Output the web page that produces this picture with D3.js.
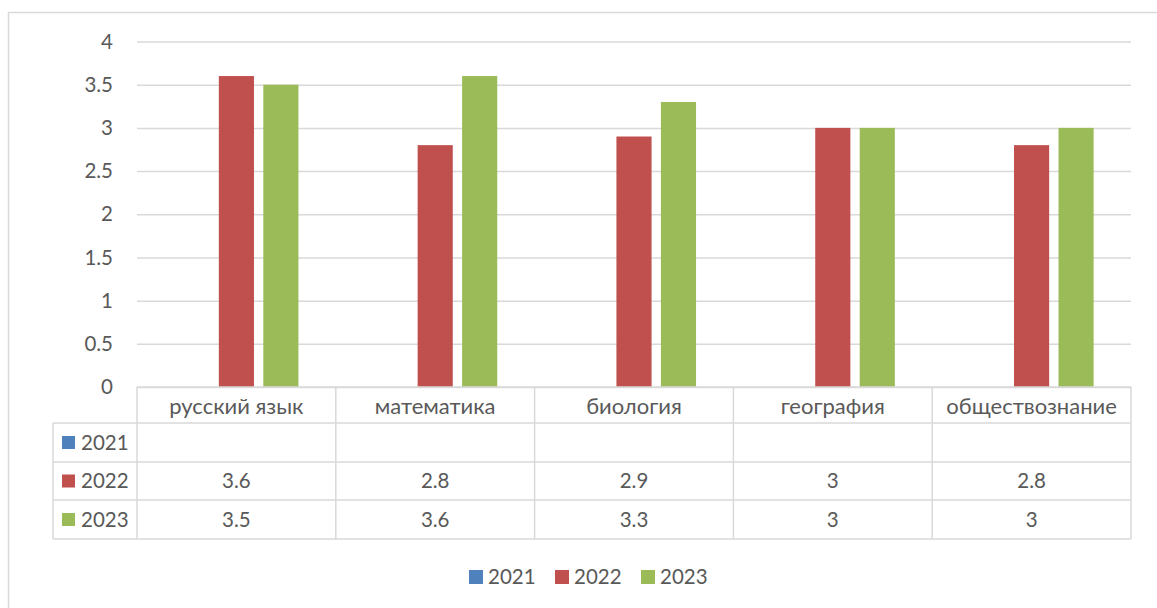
<!DOCTYPE html>
<html>
<head>
<meta charset="utf-8">
<script src="https://cdn.jsdelivr.net/npm/d3@7"></script>
<style>
  body { margin: 0; background: #fff; }
  text { font-family: Lato, "Open Sans", sans-serif; fill: #595959; }
</style>
</head>
<body>
<div id="chart"></div>
<script>
const categories = ["русский язык", "математика", "биология", "география", "обществознание"];
const years = ["2021", "2022", "2023"];
const values2021 = [null, null, null, null, null];
const values2022 = [3.6, 2.8, 2.9, 3, 2.8];
const values2023 = [3.5, 3.6, 3.3, 3, 3];
const yTicks = [0, 0.5, 1, 1.5, 2, 2.5, 3, 3.5, 4];
const colors = ["#4f81bd", "#c0504d", "#9bbb59"];

const seriesValues = [values2021, values2022, values2023];

const W = 1157, H = 608;
const plot = {left: 137, right: 1131, top: 41.5, bottom: 387};
const plotWidth = plot.right - plot.left,
    plotHeight = plot.bottom - plot.top;
const gridColor = "#d9d9d9";
const numSize = 20.5, labelSize = 22;

const svg = d3.select("#chart")
    .append("svg")
    .attr("width", W)
    .attr("height", H);

// chart frame
svg.append("rect")
    .attr("x", 8.5)
    .attr("y", 12.5)
    .attr("width", W + 10)
    .attr("height", H + 10)
    .style("fill", "none")
    .style("stroke", gridColor)
    .style("stroke-width", 1.5);

const g = svg.append("g")
    .attr("transform", `translate(${plot.left}, ${plot.top})`);

let x0 = d3.scaleBand().domain(categories).range([0, plotWidth]).padding(0);
let x1 = d3.scaleBand().domain(years).range([0, x0.bandwidth()])
    .paddingInner(0.21).paddingOuter(0.84);
let y = d3.scaleLinear().domain([0, 4]).range([plotHeight, 0]);

// gridlines + y labels
const yAxis = g.append("g")
    .attr("class", "y axis")
    .call(d3.axisLeft(y).tickValues(yTicks).tickSize(-plotWidth).tickPadding(24).tickFormat(d3.format("")));
yAxis.select(".domain").remove();
yAxis.selectAll("line").style("stroke", gridColor).style("stroke-width", 1.5);
yAxis.selectAll("text").attr("font-size", numSize).style("fill", "#595959")
    .style("font-family", "Lato, 'Open Sans', sans-serif");

// bars
seriesValues.forEach(function (vals, si) {
    g.append("g")
        .selectAll("rect")
        .data(vals.map(function (v, i) { return {cat: categories[i], v: v}; }).filter(function (d) { return d.v !== null; }))
        .enter()
        .append("rect")
        .attr("x", function (d) { return x0(d.cat) + x1(years[si]); })
        .attr("y", function (d) { return y(d.v); })
        .attr("width", x1.bandwidth())
        .attr("height", function (d) { return plotHeight - y(d.v); })
        .style("fill", colors[si]);
});

// data table
const rowHeader = 36;
const rowH = [39, 38, 39];
const tableLeft = 53;
const tableLines = svg.append("g")
    .style("stroke", gridColor)
    .style("stroke-width", 1.5)
    .style("fill", "none");

let rowTops = [plot.bottom + rowHeader];
rowH.forEach(function (h, i) { rowTops.push(rowTops[i] + h); });
const tableBottom = rowTops[rowTops.length - 1];

// horizontal lines
tableLines.append("line").attr("x1", plot.left).attr("x2", plot.right)
    .attr("y1", plot.bottom).attr("y2", plot.bottom);
rowTops.forEach(function (ty) {
    tableLines.append("line").attr("x1", tableLeft).attr("x2", plot.right)
        .attr("y1", ty).attr("y2", ty);
});
// vertical lines
tableLines.append("line").attr("x1", tableLeft).attr("x2", tableLeft)
    .attr("y1", rowTops[0]).attr("y2", tableBottom);
categories.concat([null]).forEach(function (c, i) {
    const vx = plot.left + i * x0.step();
    tableLines.append("line").attr("x1", vx).attr("x2", vx)
        .attr("y1", plot.bottom).attr("y2", tableBottom);
});

// header labels
svg.append("g").selectAll("text")
    .data(categories)
    .enter()
    .append("text")
    .attr("x", function (d) { return plot.left + x0(d) + x0.bandwidth() / 2; })
    .attr("y", plot.bottom + rowHeader / 2 + 1)
    .attr("dy", "0.35em")
    .attr("text-anchor", "middle")
    .attr("font-size", labelSize)
    .text(function (d) { return d; });

// rows
years.forEach(function (yr, si) {
    const cy = (rowTops[si] + rowTops[si + 1]) / 2;
    svg.append("rect")
        .attr("x", 62).attr("y", cy - 6.5)
        .attr("width", 13).attr("height", 13)
        .style("fill", colors[si]);
    svg.append("text")
        .attr("x", 81).attr("y", cy)
        .attr("dy", "0.35em")
        .attr("font-size", numSize)
        .text(yr);
    seriesValues[si].forEach(function (v, i) {
        if (v === null) return;
        svg.append("text")
            .attr("x", plot.left + x0(categories[i]) + x0.bandwidth() / 2)
            .attr("y", cy)
            .attr("dy", "0.35em")
            .attr("text-anchor", "middle")
            .attr("font-size", numSize)
            .text(v);
    });
});

// legend
const legend = svg.append("g").attr("transform", "translate(469, 577)");
years.forEach(function (yr, i) {
    const item = legend.append("g").attr("transform", `translate(${i * 86}, 0)`);
    item.append("rect").attr("x", 0).attr("y", -7).attr("width", 14).attr("height", 14)
        .style("fill", colors[i]);
    item.append("text").attr("x", 19).attr("y", 0).attr("dy", "0.35em")
        .attr("font-size", numSize).text(yr);
});
</script>
</body>
</html>
